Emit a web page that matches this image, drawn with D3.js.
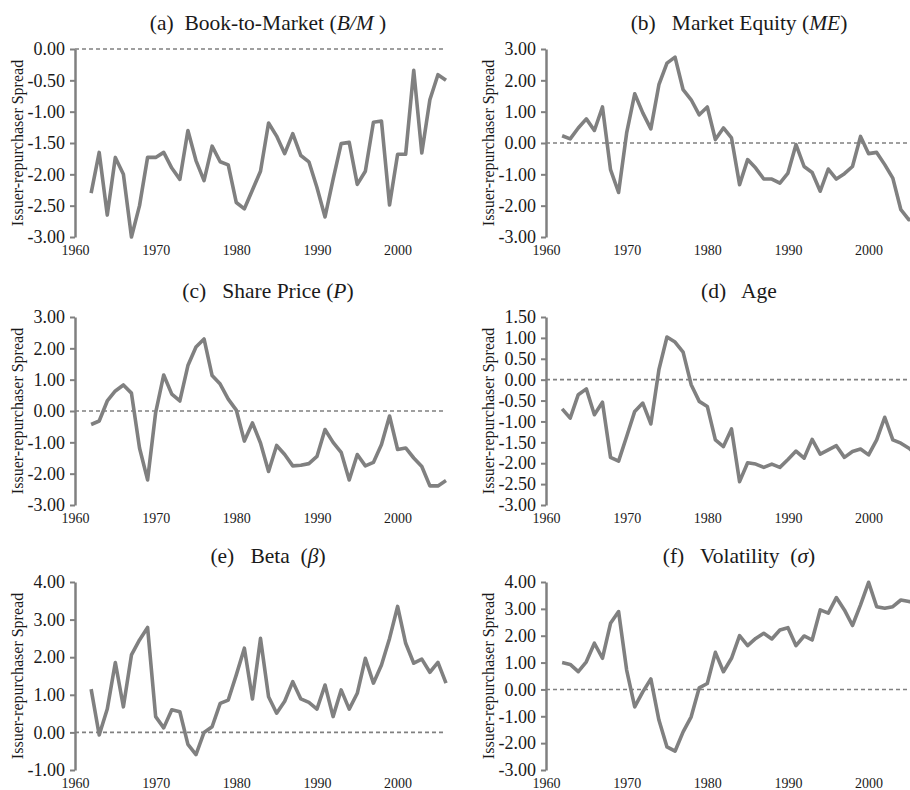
<!DOCTYPE html>
<html>
<head>
<meta charset="utf-8">
<script src="https://cdn.jsdelivr.net/npm/d3@7"></script>
<style>
  body { margin: 0; background: #fff; }
  svg text { font-family: "Liberation Serif", "DejaVu Serif", serif; fill: #1a1a1a; }
  .title { font-size: 21.5px; white-space: pre; }
  .ylab { font-size: 16px; }
</style>
</head>
<body>
<svg id="chart" width="910" height="790"></svg>
<script>
(function () {
    // years on the x axis
    const years = [1962, 1963, 1964, 1965, 1966, 1967, 1968, 1969, 1970, 1971,
                   1972, 1973, 1974, 1975, 1976, 1977, 1978, 1979, 1980, 1981,
                   1982, 1983, 1984, 1985, 1986, 1987, 1988, 1989, 1990, 1991,
                   1992, 1993, 1994, 1995, 1996, 1997, 1998, 1999, 2000, 2001,
                   2002, 2003, 2004, 2005, 2006];
    const yearLabels = [1960, 1970, 1980, 1990, 2000];

    // issuer-repurchaser spreads
    const bookToMarket = [-2.30, -1.65, -2.65, -1.73, -2.00, -3.00, -2.50, -1.73, -1.73, -1.65,
                          -1.90, -2.08, -1.30, -1.78, -2.10, -1.55, -1.80, -1.85, -2.45, -2.55,
                          -2.25, -1.95, -1.18, -1.39, -1.67, -1.35, -1.70, -1.80, -2.21, -2.68,
                          -2.08, -1.51, -1.49, -2.16, -1.95, -1.17, -1.15, -2.49, -1.68, -1.68,
                          -0.34, -1.66, -0.81, -0.41, -0.50];
    const marketEquity = [0.23, 0.13, 0.48, 0.77, 0.40, 1.15, -0.85, -1.58, 0.32, 1.57,
                          0.96, 0.45, 1.86, 2.55, 2.74, 1.70, 1.38, 0.90, 1.15, 0.11,
                          0.48, 0.16, -1.33, -0.53, -0.80, -1.15, -1.15, -1.28, -0.96, -0.05,
                          -0.75, -0.94, -1.54, -0.83, -1.15, -0.98, -0.75, 0.21, -0.34, -0.30,
                          -0.69, -1.12, -2.13, -2.45, -2.35];
    const sharePrice = [-0.43, -0.32, 0.32, 0.64, 0.83, 0.57, -1.18, -2.20, -0.05, 1.15,
                        0.54, 0.32, 1.45, 2.04, 2.30, 1.13, 0.86, 0.38, 0.03, -0.96,
                        -0.38, -1.02, -1.93, -1.10, -1.39, -1.75, -1.73, -1.68, -1.45, -0.59,
                        -1.00, -1.32, -2.20, -1.39, -1.75, -1.64, -1.07, -0.16, -1.23, -1.18,
                        -1.50, -1.77, -2.39, -2.39, -2.22];
    const age = [-0.70, -0.92, -0.36, -0.22, -0.84, -0.54, -1.86, -1.95, -1.36, -0.76,
                 -0.56, -1.06, 0.24, 1.02, 0.90, 0.66, -0.12, -0.52, -0.64, -1.44,
                 -1.60, -1.18, -2.44, -1.99, -2.02, -2.10, -2.02, -2.10, -1.91, -1.71,
                 -1.88, -1.43, -1.78, -1.68, -1.58, -1.86, -1.72, -1.66, -1.80, -1.44,
                 -0.90, -1.44, -1.52, -1.64, -1.80];
    const beta = [1.15, -0.07, 0.62, 1.86, 0.68, 2.06, 2.46, 2.79, 0.42, 0.12,
                  0.60, 0.55, -0.32, -0.59, 0.00, 0.15, 0.77, 0.86, 1.53, 2.24,
                  0.89, 2.50, 0.95, 0.51, 0.83, 1.35, 0.89, 0.80, 0.62, 1.26,
                  0.42, 1.13, 0.62, 1.04, 1.97, 1.31, 1.79, 2.50, 3.35, 2.37,
                  1.84, 1.95, 1.60, 1.86, 1.31];
    const volatility = [1.00, 0.93, 0.66, 1.03, 1.72, 1.16, 2.46, 2.90, 0.72, -0.65,
                        -0.09, 0.39, -1.14, -2.14, -2.30, -1.58, -1.02, 0.06, 0.22, 1.38,
                        0.66, 1.16, 2.00, 1.63, 1.90, 2.09, 1.88, 2.21, 2.30, 1.63,
                        1.99, 1.84, 2.96, 2.84, 3.42, 2.96, 2.38, 3.15, 3.99, 3.08,
                        3.02, 3.08, 3.33, 3.27, 3.27];

    // y tick values per panel
    const ticksBM = [-3, -2.5, -2, -1.5, -1, -0.5, 0];
    const ticksME = [-3, -2, -1, 0, 1, 2, 3];
    const ticksP = [-3, -2, -1, 0, 1, 2, 3];
    const ticksAge = [-3, -2.5, -2, -1.5, -1, -0.5, 0, 0.5, 1, 1.5];
    const ticksBeta = [-1, 0, 1, 2, 3, 4];
    const ticksVol = [-3, -2, -1, 0, 1, 2, 3, 4];

    // titles: [text, italic]
    const titleBM = [["(a)  Book-to-Market (", false], ["B/M", true], [" )", false]];
    const titleME = [["(b)   Market Equity (", false], ["ME", true], [")", false]];
    const titleP = [["(c)   Share Price (", false], ["P", true], [")", false]];
    const titleAge = [["(d)   Age", false]];
    const titleBeta = [["(e)   Beta  (", false], ["β", true], [")", false]];
    const titleVol = [["(f)   Volatility  (", false], ["σ", true], [")", false]];

    const yLabel = "Issuer-repurchaser Spread";

    const panels = [
        { title: titleBM, values: bookToMarket, ticks: ticksBM, col: 0, row: 0 },
        { title: titleME, values: marketEquity, ticks: ticksME, col: 1, row: 0 },
        { title: titleP, values: sharePrice, ticks: ticksP, col: 0, row: 1 },
        { title: titleAge, values: age, ticks: ticksAge, col: 1, row: 1 },
        { title: titleBeta, values: beta, ticks: ticksBeta, col: 0, row: 2 },
        { title: titleVol, values: volatility, ticks: ticksVol, col: 1, row: 2 }
    ];

    // layout
    const colLeft = [75, 546], rowTop = [49, 317, 582];
    const plotW = 371, plotH = 188;
    const gray = "#808080";

    const svg = d3.select("#chart");
    const fmt = (d) => d.toFixed(2);

    panels.forEach((p) => {
        const left = colLeft[p.col], top = rowTop[p.row];
        const g = svg.append("g").attr("transform", `translate(${left},${top})`);

        const x = d3.scaleLinear().domain([1960, 2006]).range([0, plotW]);
        const y = d3.scaleLinear().domain(d3.extent(p.ticks)).range([plotH, 0]);

        // year labels at the bottom, no axis line
        const xa = g.append("g")
            .attr("transform", `translate(0,${plotH})`)
            .call(d3.axisBottom(x).tickValues(yearLabels).tickFormat(d3.format("d")).tickSize(0).tickPadding(8));
        xa.select(".domain").remove();
        xa.selectAll(".tick text").style("font-size", "14px");

        // dashed zero line
        g.append("line")
            .attr("x1", x(1960)).attr("x2", x(2006))
            .attr("y1", y(0)).attr("y2", y(0))
            .attr("stroke", gray)
            .attr("stroke-width", 1.6)
            .attr("stroke-dasharray", "4,3");

        // y axis
        const ya = g.append("g")
            .call(d3.axisLeft(y).tickValues(p.ticks).tickFormat(fmt).tickSize(5).tickSizeOuter(0).tickPadding(5));
        ya.select(".domain").attr("stroke", gray).attr("stroke-width", 2.5);
        ya.selectAll(".tick line").attr("stroke", gray).attr("stroke-width", 2);
        ya.selectAll(".tick text").style("font-size", "18px");

        // spread series
        const line = d3.line()
            .x((d, i) => x(years[i]))
            .y((d) => y(d));
        g.append("path")
            .datum(p.values)
            .attr("fill", "none")
            .attr("stroke", gray)
            .attr("stroke-width", 3.6)
            .attr("stroke-linejoin", "round")
            .attr("d", line);

        // y label
        g.append("text")
            .attr("class", "ylab")
            .attr("transform", "rotate(-90)")
            .attr("x", -plotH / 2)
            .attr("y", -58)
            .attr("text-anchor", "middle")
            .attr("dominant-baseline", "central")
            .text(yLabel);

        // title
        const t = g.append("text")
            .attr("class", "title")
            .attr("x", 193)
            .attr("y", -19)
            .attr("text-anchor", "middle");
        p.title.forEach((s) => {
            t.append("tspan").text(s[0]).style("font-style", s[1] ? "italic" : "normal");
        });
    });
})();
</script>
</body>
</html>
